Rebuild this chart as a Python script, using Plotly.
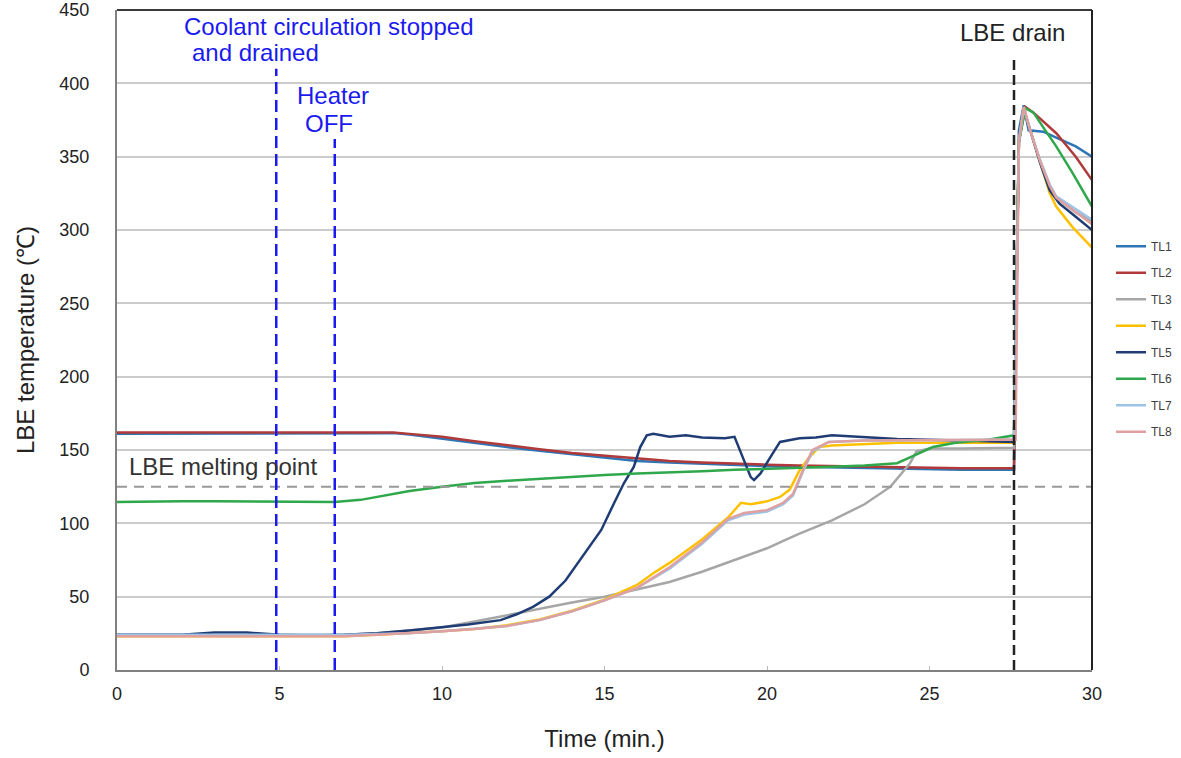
import plotly.graph_objects as go

# ---------------- data ----------------
tl1_time = [0, 2, 4, 6, 8, 8.5, 9, 10, 11, 12, 13, 14, 15, 16, 17, 18, 19, 20, 21, 22, 23, 24, 25, 26, 27, 27.6,
            27.75, 27.9, 28.05, 28.5, 28.9, 29.5, 30]
tl1_temp = [161, 161, 161.5, 161.5, 161.5, 161.5, 160.5, 157.5, 155, 152, 149.5, 147, 144.5, 142.5, 141.5, 140.5,
            139.5, 139, 138.5, 138, 137.5, 137, 137, 136.5, 136.5, 136.5,
            368, 385, 368, 367, 363, 357, 350]

tl2_time = [0, 2, 4, 6, 8, 8.5, 9, 10, 11, 12, 13, 14, 15, 16, 17, 18, 19, 20, 21, 22, 23, 24, 25, 26, 27, 27.6,
            27.75, 27.95, 28.2, 28.9, 29.5, 30]
tl2_temp = [162, 162, 162, 162, 162.5, 162, 161, 159, 156, 153, 150.5, 148, 146, 144, 142.5, 141.5, 140.5, 140,
            139.5, 139, 138.5, 138, 138, 137.5, 137.5, 137.5,
            360, 384, 380, 366, 350, 334]

tl3_time = [0, 2, 4, 6, 7, 8, 9, 10, 11, 12, 13, 14, 15, 16, 17, 18, 19, 20, 20.5, 21, 22, 23, 23.8, 24.4, 24.6,
            25, 26, 27, 27.6, 27.75, 27.9, 28.1, 28.4, 28.7, 28.9, 29.5, 30]
tl3_temp = [24, 24, 24.5, 24, 24, 25, 27, 29, 33, 37.5, 42, 46, 50, 55, 60, 67, 75, 83, 88, 93, 102, 113, 125,
            141, 149, 151, 151, 151.5, 151.5, 360, 383, 368, 347, 329, 322, 312, 306]

tl4_time = [0, 2, 4, 6, 7, 8, 9, 10, 11, 12, 13, 14, 15, 16, 16.5, 17, 18, 18.8, 19.2, 19.5, 20, 20.4, 20.7, 21,
            21.3, 21.6, 22, 23, 24, 25, 26, 27, 27.6, 27.75, 27.9, 28.1, 28.4, 28.7, 28.9, 29.4, 30]
tl4_temp = [23, 23, 23.5, 23, 23, 24, 25, 26.5, 28, 30.5, 34.5, 40.5, 48, 58, 66, 73, 89, 104, 114, 113, 115,
            118, 123, 136, 145, 152, 153, 154, 155, 155, 155, 155, 155,
            360, 383, 368, 346, 325, 316, 302, 288]

tl5_time = [0, 1, 2, 3, 4, 5, 6, 7, 8, 9, 10, 10.8, 11.8, 12.3, 12.8, 13.3, 13.8, 14.3, 14.9, 15.3, 15.6, 15.9,
            16.1, 16.3, 16.5, 17, 17.5, 18, 18.7, 19.0, 19.3, 19.5, 19.6, 19.8, 20.1, 20.4, 21, 21.5, 22, 23, 24,
            25, 26, 27, 27.6, 27.75, 27.9, 28.1, 28.4, 28.7, 29.0, 29.5, 30]
tl5_temp = [24, 24, 24, 25.5, 25.5, 24, 23.5, 24, 25, 27, 29, 31, 34, 38, 43, 50, 61, 77, 95.5, 114, 127.5,
            138.5, 152, 160, 161, 159, 160, 158.5, 158, 159, 143, 131.5, 129.5, 134, 145, 155.5, 158, 158.5,
            160, 158.5, 157.5, 157, 156.5, 156, 155.5,
            360, 382, 368, 346, 327, 318, 309, 300]

tl6_time = [0, 1, 2, 3, 4, 5, 6, 6.7, 7.5, 8, 9, 10, 11, 12, 13, 14, 15, 16, 17, 18, 19, 20, 21, 22, 23, 24,
            24.4, 25.1, 25.8, 26.8, 27.6, 27.75, 27.95, 28.2, 28.5, 28.9, 29.4, 30]
tl6_temp = [114.5, 115, 115, 115, 115, 114.5, 114.5, 114.5, 116, 118, 122, 125, 127.5, 129, 130.5, 132, 133, 134,
            134.5, 135.5, 136.5, 137, 138, 138.5, 139.5, 141, 145, 152, 155, 157, 160,
            360, 383, 380, 370, 357, 339, 316]

tl7_time = [0, 2, 4, 6, 7, 8, 9, 10, 11, 12, 13, 14, 15, 16, 17, 18, 18.8, 19.3, 20, 20.5, 20.8, 21.1, 21.4,
            21.9, 23, 25, 27, 27.6, 27.75, 27.9, 28.1, 28.4, 28.7, 28.9, 29.5, 30]
tl7_temp = [24, 24, 24, 23.5, 24, 24.5, 25, 26.5, 28, 30, 34, 40, 47.5, 56, 69, 86, 102, 106, 108, 113, 119,
            135, 149, 155.5, 156.5, 157, 157, 157,
            360, 383, 368, 348, 331, 323, 314, 307]

tl8_time = [0, 2, 4, 6, 7, 8, 9, 10, 11, 12, 13, 14, 15, 16, 17, 18, 18.8, 19.3, 20, 20.5, 20.8, 21.1, 21.4,
            21.9, 23, 25, 27, 27.65, 27.75, 27.9, 28.1, 28.4, 28.7, 28.9, 29.5, 30]
tl8_temp = [23, 23, 23, 23, 23, 24, 25, 26.5, 28, 30, 34, 40, 47.5, 56, 70, 87, 103, 107, 109, 114, 120, 136,
            150, 155.5, 156.5, 157, 157, 157,
            360, 384, 368, 347, 330, 322, 312, 304]

series_names = ["TL1", "TL2", "TL3", "TL4", "TL5", "TL6", "TL7", "TL8"]
series_times = [tl1_time, tl2_time, tl3_time, tl4_time, tl5_time, tl6_time, tl7_time, tl8_time]
series_temps = [tl1_temp, tl2_temp, tl3_temp, tl4_temp, tl5_temp, tl6_temp, tl7_temp, tl8_temp]
series_colors = ["#2e75b6", "#b03a3a", "#a6a6a6", "#ffc000", "#1f3d74", "#2ea84a", "#9dc3e6", "#dea0a0"]

coolant_stop_time = 4.9
heater_off_time = 6.7
drain_time = 27.6
melting_point = 125

x_ticks = [0, 5, 10, 15, 20, 25, 30]
y_ticks = [0, 50, 100, 150, 200, 250, 300, 350, 400, 450]

FONT = "Liberation Sans, Arial, sans-serif"

fig = go.Figure()
for name, t, v, c in zip(series_names, series_times, series_temps, series_colors):
    fig.add_trace(go.Scatter(x=t, y=v, mode="lines", name=name, legendgroup=name,
                             line=dict(color=c, width=2.5)))

# reference lines
fig.add_shape(type="line", xref="x", yref="y", x0=0, x1=30, y0=melting_point, y1=melting_point,
              line=dict(color="#999999", width=2, dash="10px,7px"))
fig.add_shape(type="line", xref="x", yref="y", x0=coolant_stop_time, x1=coolant_stop_time, y0=0, y1=410,
              line=dict(color="#1a1af0", width=2.5, dash="12px,6px"))
fig.add_shape(type="line", xref="x", yref="y", x0=heater_off_time, x1=heater_off_time, y0=0, y1=362,
              line=dict(color="#1a1af0", width=2.5, dash="12px,6px"))
fig.add_shape(type="line", xref="x", yref="y", x0=drain_time, x1=drain_time, y0=0, y1=418,
              line=dict(color="#222222", width=2.5, dash="10px,5px"))
# darker top/right frame
fig.add_shape(type="line", xref="paper", yref="paper", x0=0, x1=1, y0=1, y1=1,
              line=dict(color="#3a3a3a", width=2))
fig.add_shape(type="line", xref="paper", yref="paper", x0=1, x1=1, y0=0, y1=1,
              line=dict(color="#222222", width=2))

blue = "#1a1af0"
ann = [
    dict(x=2.0, y=439, text="Coolant circulation stopped", xanchor="left", font=dict(color=blue, size=24)),
    dict(x=2.25, y=421, text="and drained", xanchor="left", font=dict(color=blue, size=24)),
    dict(x=6.65, y=391.5, text="Heater", xanchor="center", font=dict(color=blue, size=24)),
    dict(x=6.52, y=372.5, text="OFF", xanchor="center", font=dict(color=blue, size=24)),
    dict(x=27.54, y=435, text="LBE drain", xanchor="center", font=dict(color="#222222", size=24)),
    dict(x=0.3, y=139, text="LBE melting point", xanchor="left", font=dict(color="#333333", size=24)),
]
for a in ann:
    fig.add_annotation(xref="x", yref="y", showarrow=False, yanchor="middle", **a)

fig.update_layout(
    width=1181, height=758, autosize=False,
    margin=dict(l=117, r=89, t=10, b=88, pad=0, autoexpand=False),
    paper_bgcolor="white", plot_bgcolor="white",
    font=dict(family=FONT, color="#333333"),
    showlegend=True,
    legend=dict(x=1.0195, xanchor="left", y=0.664, yanchor="top", traceorder="grouped",
                tracegroupgap=7.5, font=dict(size=12, color="#404040"),
                bgcolor="rgba(0,0,0,0)", borderwidth=0, itemwidth=30),
)
fig.update_xaxes(range=[0, 30], tickvals=x_ticks, showgrid=False, zeroline=False, automargin=False,
                 showline=True, linecolor="#808080", linewidth=2,
                 ticks="inside", ticklen=4, tickcolor="#bbbbbb", tickwidth=1,
                 tickfont=dict(size=18, color="#222222"), ticklabelstandoff=6,
                 title=dict(text="Time (min.)", font=dict(size=24, color="#222222"), standoff=28))
fig.update_yaxes(range=[0, 450], tickvals=y_ticks, showgrid=True, gridcolor="#cccccc", gridwidth=1.5,
                 zeroline=False, showline=True, linecolor="#808080", linewidth=2, ticks="", automargin=False,
                 tickfont=dict(size=18, color="#222222"), ticklabelstandoff=22,
                 title=dict(text="LBE temperature (℃)", font=dict(size=24, color="#222222"), standoff=18))

fig.write_html("out.html")
